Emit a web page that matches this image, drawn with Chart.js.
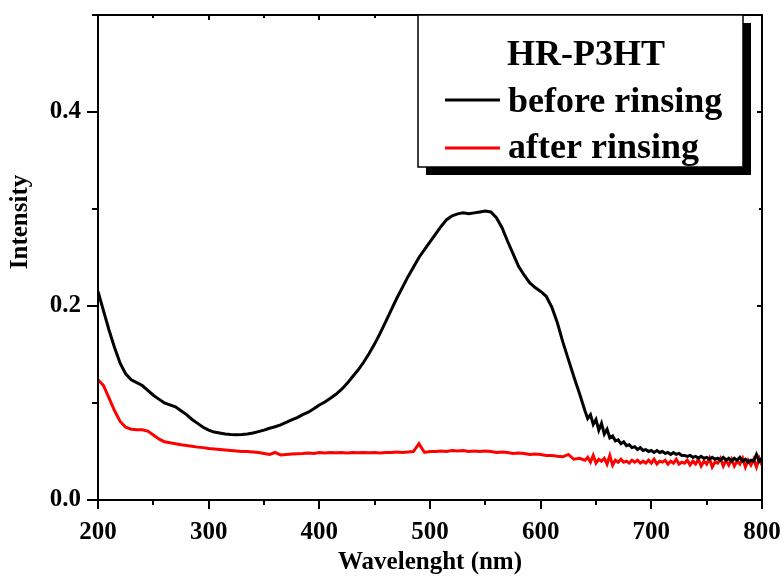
<!DOCTYPE html>
<html>
<head>
<meta charset="utf-8">
<script src="https://cdn.jsdelivr.net/npm/chart.js@4.4.1/dist/chart.umd.min.js"></script>
<style>
html,body{margin:0;padding:0;background:#fff;}
#wrap{width:783px;height:578px;position:relative;}
</style>
</head>
<body>
<div id="wrap"><canvas id="c" width="783" height="578"></canvas></div>
<script>
const wavelengths = [
200,205,210,215,220,225,230,235,240,245,250,255,260,265,270,275,280,285,290,295,
300,305,310,315,320,325,330,335,340,345,350,355,360,365,370,375,380,385,390,395,
400,405,410,415,420,425,430,435,440,445,450,455,460,465,470,475,480,485,490,495,
500,505,510,515,520,525,530,535,540,545,550,555,560,565,570,575,580,585,590,595,
600,605,610,615,620,625,630,635,640,
642.5,645,647.5,650,652.5,655,657.5,660,662.5,665,667.5,670,672.5,675,677.5,680,
682.5,685,687.5,690,692.5,695,697.5,700,702.5,705,707.5,710,712.5,715,717.5,720,
722.5,725,727.5,730,732.5,735,737.5,740,742.5,745,747.5,750,752.5,755,757.5,760,
762.5,765,767.5,770,772.5,775,777.5,780,782.5,785,787.5,790,792.5,795,797.5,800
];

const beforeRinsing = [
0.215,0.195,0.175,0.157,0.141,0.130,0.124,0.121,0.118,0.113,0.108,0.104,0.100,0.098,0.096,0.092,0.088,0.083,0.079,0.075,
0.072,0.070,0.069,0.068,0.0675,0.0672,0.0675,0.068,0.069,0.0705,0.072,0.074,0.0755,0.0775,0.080,0.0825,0.085,0.088,0.0905,0.094,
0.098,0.101,0.105,0.109,0.114,0.120,0.127,0.134,0.142,0.151,0.161,0.172,0.184,0.196,0.208,0.219,0.230,0.240,0.250,0.258,
0.266,0.274,0.282,0.289,0.293,0.295,0.296,0.295,0.296,0.297,0.298,0.297,0.291,0.281,0.267,0.254,0.241,0.232,0.224,0.219,
0.215,0.210,0.199,0.183,0.163,0.145,0.127,0.110,0.092,
0.084,0.088,0.078,0.083,0.072,0.079,0.068,0.073,0.064,0.066,0.061,0.062,0.058,0.060,0.056,0.057,
0.054,0.055,0.052,0.054,0.051,0.052,0.050,0.051,0.049,0.051,0.049,0.050,0.048,0.049,0.047,0.049,
0.047,0.048,0.046,0.046,0.045,0.046,0.044,0.045,0.043,0.045,0.043,0.044,0.042,0.044,0.042,0.043,
0.041,0.044,0.041,0.043,0.040,0.043,0.041,0.044,0.040,0.042,0.039,0.041,0.040,0.047,0.040,0.043
];

const afterRinsing = [
0.124,0.118,0.105,0.092,0.081,0.075,0.073,0.0725,0.0725,0.071,0.067,0.063,0.060,0.059,0.058,0.057,0.0563,0.0555,0.0545,0.054,
0.053,0.0525,0.052,0.0515,0.051,0.0505,0.050,0.050,0.0495,0.049,0.048,0.047,0.049,0.0465,0.047,0.0475,0.0478,0.048,0.0485,0.048,
0.049,0.0485,0.049,0.0488,0.049,0.0485,0.049,0.0488,0.049,0.0487,0.049,0.0485,0.049,0.049,0.0495,0.049,0.0495,0.050,0.058,0.049,
0.050,0.050,0.0505,0.050,0.051,0.0505,0.051,0.050,0.0505,0.050,0.0505,0.050,0.049,0.0495,0.049,0.048,0.0485,0.048,0.047,0.0475,
0.047,0.046,0.046,0.045,0.0445,0.047,0.042,0.043,0.041,
0.044,0.039,0.046,0.038,0.042,0.040,0.043,0.037,0.046,0.036,0.041,0.039,0.042,0.039,0.040,0.038,
0.041,0.039,0.041,0.038,0.040,0.038,0.041,0.038,0.042,0.037,0.040,0.039,0.041,0.037,0.040,0.038,
0.042,0.037,0.039,0.038,0.041,0.036,0.040,0.037,0.042,0.035,0.040,0.037,0.043,0.034,0.039,0.038,
0.043,0.035,0.041,0.036,0.042,0.035,0.040,0.037,0.043,0.034,0.041,0.036,0.042,0.034,0.043,0.036
];

const legendTitle = 'HR-P3HT';
const seriesNames = ['before rinsing', 'after rinsing'];
const xTitle = 'Wavelenght (nm)';
const yTitle = 'Intensity';

const FONT = '"Liberation Serif", "Times New Roman", serif';

const toPoints = (ys) => wavelengths.map((x, i) => ({x: x, y: ys[i]}));

const framePlugin = {
  id: 'frame',
  afterDatasetsDraw(chart) {
    const {ctx, chartArea: a, scales} = chart;
    const xs = scales.x, ys = scales.y;
    ctx.save();
    ctx.strokeStyle = '#000';
    ctx.lineWidth = 2;
    ctx.strokeRect(a.left, a.top, a.right - a.left, a.bottom - a.top);
    ctx.beginPath();
    for (let v = 200; v <= 800; v += 50) {
      const px = Math.round(xs.getPixelForValue(v));
      const major = v % 100 === 0;
      ctx.moveTo(px, a.bottom); ctx.lineTo(px, a.bottom + (major ? 9 : 5));
      ctx.moveTo(px, a.top); ctx.lineTo(px, a.top + (major ? 5 : 3));
    }
    for (let k = 0; k <= 5; k++) {
      const v = k / 10;
      const py = Math.round(ys.getPixelForValue(v));
      const major = k % 2 === 0;
      ctx.moveTo(a.left, py); ctx.lineTo(a.left - (major ? 11 : 6), py);
      ctx.moveTo(a.right, py); ctx.lineTo(a.right - (major ? 5 : 3), py);
    }
    ctx.stroke();

    // y-axis title
    ctx.fillStyle = '#000';
    ctx.font = 'bold 25px ' + FONT;
    ctx.textAlign = 'center';
    ctx.textBaseline = 'middle';
    ctx.translate(21, 222);
    ctx.rotate(-Math.PI / 2);
    ctx.fillText(yTitle, 0, 0);
    ctx.restore();

    // legend box with shadow
    ctx.save();
    const bx = 418, by = 15, bw = 325, bh = 152, sh = 8;
    ctx.fillStyle = '#000';
    ctx.fillRect(bx + sh, by + sh, bw, bh);
    ctx.fillStyle = '#fff';
    ctx.fillRect(bx, by, bw, bh);
    ctx.strokeStyle = '#000';
    ctx.lineWidth = 1.5;
    ctx.strokeRect(bx, by, bw, bh);
    ctx.fillStyle = '#000';
    ctx.font = 'bold 36px ' + FONT;
    ctx.textAlign = 'center';
    ctx.textBaseline = 'alphabetic';
    ctx.fillText(legendTitle, 586, 65);
    ctx.textAlign = 'left';
    const rows = [{y: 100, base: 112}, {y: 148, base: 158}];
    chart.data.datasets.forEach((ds, i) => {
      ctx.strokeStyle = ds.borderColor;
      ctx.lineWidth = 3;
      ctx.beginPath();
      ctx.moveTo(445, rows[i].y); ctx.lineTo(500, rows[i].y);
      ctx.stroke();
      ctx.fillStyle = '#000';
      ctx.fillText(ds.label, 508, rows[i].base);
    });
    ctx.restore();
  }
};

new Chart(document.getElementById('c'), {
  type: 'line',
  data: {
    datasets: [
      {label: seriesNames[0], data: toPoints(beforeRinsing), borderColor: '#000000', borderWidth: 3, pointRadius: 0, tension: 0, fill: false},
      {label: seriesNames[1], data: toPoints(afterRinsing), borderColor: '#ff0000', borderWidth: 3, pointRadius: 0, tension: 0, fill: false}
    ]
  },
  options: {
    responsive: false,
    animation: false,
    devicePixelRatio: 1,
    layout: {padding: {top: 15, right: 21, left: 0, bottom: 0}},
    plugins: {legend: {display: false}, tooltip: {enabled: false}},
    scales: {
      x: {
        type: 'linear', min: 200, max: 800,
        grid: {display: false, drawTicks: false},
        border: {display: false},
        ticks: {stepSize: 100, color: '#000', padding: 18, maxRotation: 0,
                font: {family: FONT, size: 25, weight: 'bold'}},
        title: {display: true, text: xTitle, color: '#000', padding: {top: 2, bottom: 0},
                font: {family: FONT, size: 25, weight: 'bold'}},
        afterFit: (s) => { s.height = 78; s.paddingLeft = 0; s.paddingRight = 0; }
      },
      y: {
        type: 'linear', min: 0, max: 0.5,
        grid: {display: false, drawTicks: false},
        border: {display: false},
        ticks: {stepSize: 0.1, color: '#000', padding: 17,
                font: {family: FONT, size: 25, weight: 'bold'},
                callback: (v) => (Math.round(v * 10) % 2 === 0 ? v.toFixed(1) : '')},
        afterFit: (s) => { s.width = 98; s.paddingTop = 0; s.paddingBottom = 0; }
      }
    }
  },
  plugins: [framePlugin]
});
</script>
</body>
</html>
